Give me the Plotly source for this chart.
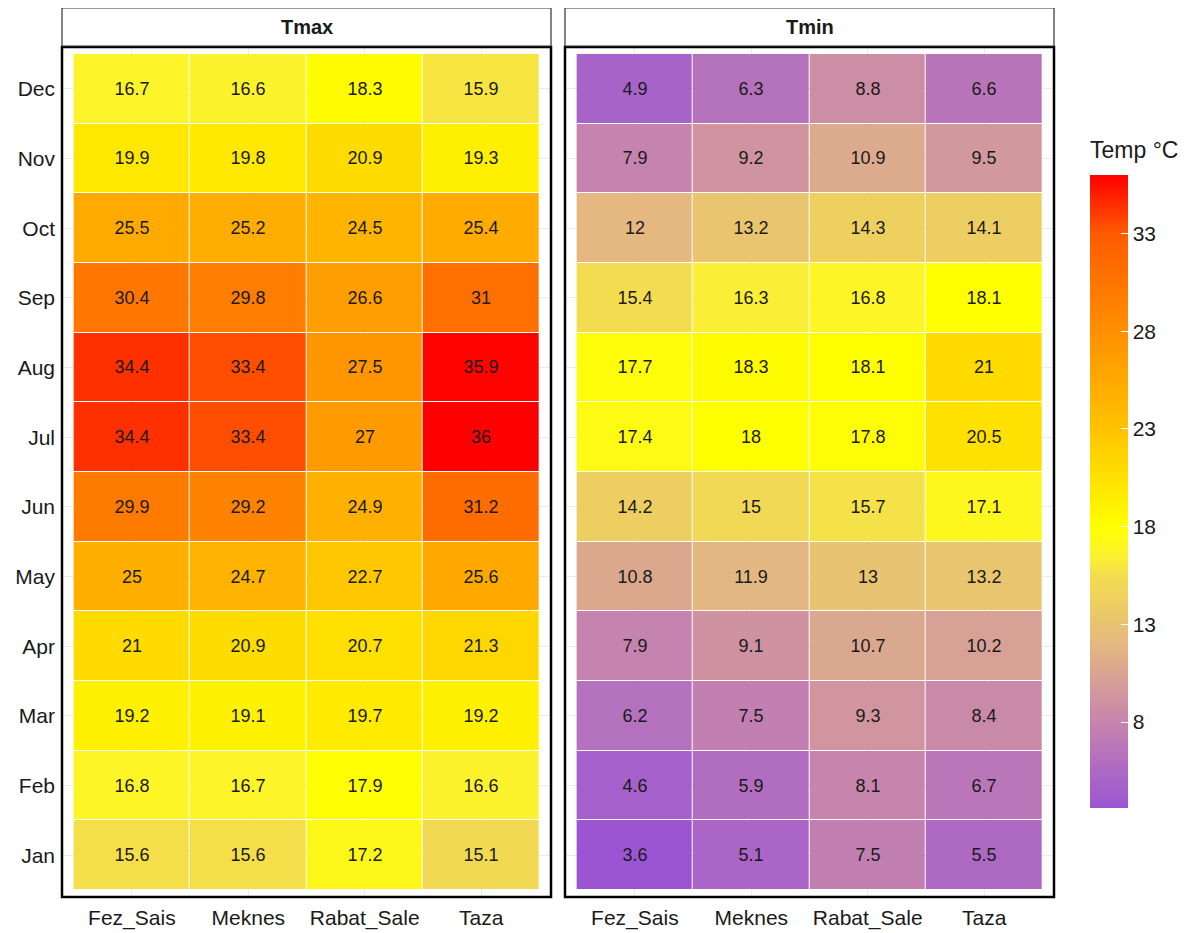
import plotly.graph_objects as go

months = ["Jan", "Feb", "Mar", "Apr", "May", "Jun", "Jul", "Aug", "Sep", "Oct", "Nov", "Dec"]
stations = ["Fez_Sais", "Meknes", "Rabat_Sale", "Taza"]
panels = ["Tmax", "Tmin"]

tmax = [
    [15.6, 15.6, 17.2, 15.1],
    [16.8, 16.7, 17.9, 16.6],
    [19.2, 19.1, 19.7, 19.2],
    [21, 20.9, 20.7, 21.3],
    [25, 24.7, 22.7, 25.6],
    [29.9, 29.2, 24.9, 31.2],
    [34.4, 33.4, 27, 36],
    [34.4, 33.4, 27.5, 35.9],
    [30.4, 29.8, 26.6, 31],
    [25.5, 25.2, 24.5, 25.4],
    [19.9, 19.8, 20.9, 19.3],
    [16.7, 16.6, 18.3, 15.9],
]
tmin = [
    [3.6, 5.1, 7.5, 5.5],
    [4.6, 5.9, 8.1, 6.7],
    [6.2, 7.5, 9.3, 8.4],
    [7.9, 9.1, 10.7, 10.2],
    [10.8, 11.9, 13, 13.2],
    [14.2, 15, 15.7, 17.1],
    [17.4, 18, 17.8, 20.5],
    [17.7, 18.3, 18.1, 21],
    [15.4, 16.3, 16.8, 18.1],
    [12, 13.2, 14.3, 14.1],
    [7.9, 9.2, 10.9, 9.5],
    [4.9, 6.3, 8.8, 6.6],
]
cbar_ticks = [8, 13, 18, 23, 28, 33]

vmin = min(min(r) for r in tmin + tmax)
vmax = max(max(r) for r in tmin + tmax)

stops_val = [vmin, 8, 12, 15.5, 16.5, 18, 23, 28, 33, vmax]
stops_col = ["#9b55d3", "#c684ae", "#e4b880", "#f3dd4e", "#fdf230", "#ffff00", "#ffc300",
             "#ff9000", "#ff5a00", "#ff0000"]
colorscale = [[(v - vmin) / (vmax - vmin), c] for v, c in zip(stops_val, stops_col)]

FONT = "Liberation Sans, Arial, sans-serif"
OFF = 8  # page body margin

W, H = 1204, 933
def px(x):
    return (x - OFF) / W
def py(y):
    return 1 - (y - OFF) / H

fig = go.Figure()
for i, (name, data) in enumerate(zip(panels, [tmax, tmin])):
    xa = "x" if i == 0 else "x2"
    ya = "y" if i == 0 else "y2"
    fig.add_trace(go.Heatmap(
        z=data, x=stations, y=months, coloraxis="coloraxis",
        xgap=1, ygap=1, texttemplate="%{z}",
        textfont=dict(family=FONT, size=18, color="#1a1a1a"),
        xaxis=xa, yaxis=ya, hoverinfo="z",
    ))

dom_y = [py(897), py(47)]
doms_x = [[px(62), px(551)], [px(565), px(1054)]]

axis_common = dict(
    showgrid=True, gridcolor="#ebebeb", gridwidth=1, zeroline=False,
    ticks="", ticklabelstandoff=6,
    tickfont=dict(family=FONT, size=21, color="#1a1a1a"),
    showline=False,
)
fig.update_layout(
    width=W, height=H,
    margin=dict(l=0, r=0, t=0, b=0),
    paper_bgcolor="white", plot_bgcolor="white",
    xaxis=dict(domain=doms_x[0], anchor="y", range=[-0.6, 3.6], **axis_common),
    xaxis2=dict(domain=doms_x[1], anchor="y2", range=[-0.6, 3.6], **axis_common),
    yaxis=dict(domain=dom_y, anchor="x", range=[-0.6, 11.6], **axis_common),
    yaxis2=dict(domain=dom_y, anchor="x2", range=[-0.6, 11.6], showticklabels=False, **axis_common),
    coloraxis=dict(
        colorscale=colorscale, cmin=vmin, cmax=vmax,
        colorbar=dict(
            title=dict(text=""),
            x=px(1090), xanchor="left", xpad=0, ypad=0,
            y=py(808), yanchor="bottom", len=633 / H, lenmode="fraction",
            thickness=38, thicknessmode="pixels", outlinewidth=0,
            tickvals=cbar_ticks, ticks="inside", ticklen=7, tickcolor="white",
            tickfont=dict(family=FONT, size=21, color="#1a1a1a"),
        ),
    ),
    showlegend=False,
)

fig.add_annotation(xref="paper", yref="paper", x=px(1088), y=py(150),
                   text="Temp °C", showarrow=False, xanchor="left", yanchor="middle",
                   font=dict(family=FONT, size=23, color="#1a1a1a"))

for i, name in enumerate(panels):
    x0, x1 = doms_x[i]
    fig.add_shape(type="rect", xref="paper", yref="paper", x0=x0, x1=x1,
                  y0=dom_y[0], y1=dom_y[1], line=dict(color="black", width=2.5),
                  fillcolor="rgba(0,0,0,0)", layer="above")
    fig.add_shape(type="rect", xref="paper", yref="paper", x0=x0, x1=x1,
                  y0=py(46), y1=py(8), line=dict(color="#333333", width=1.2),
                  fillcolor="white", layer="above")
    fig.add_annotation(xref="paper", yref="paper", x=(x0 + x1) / 2, y=(py(46) + py(8)) / 2,
                       text="<b>%s</b>" % name, showarrow=False,
                       font=dict(family=FONT, size=20, color="#1a1a1a"),
                       xanchor="center", yanchor="middle")

fig.write_html("out.html")
